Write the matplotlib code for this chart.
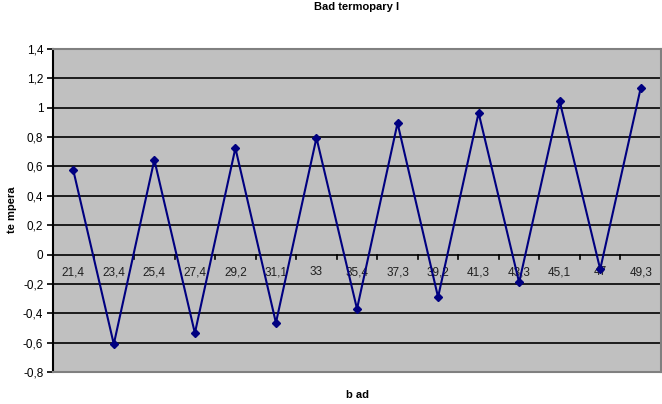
import numpy as np
import matplotlib.pyplot as plt
from matplotlib.ticker import FuncFormatter

plt.rcParams['font.family'] = ['Liberation Sans', 'DejaVu Sans']

# data
categories = ["21,4", "23,4", "25,4", "27,4", "29,2", "31,1", "33", "35,4",
              "37,3", "39,2", "41,3", "43,3", "45,1", "47", "49,3"]
values = [0.575, -0.61, 0.645, -0.535, 0.725, -0.465, 0.795, -0.37,
          0.895, -0.29, 0.965, -0.19, 1.045, -0.10, 1.135]

x = np.arange(len(categories))


def comma(v, pos):
    v = round(v, 1)
    if v == 0:
        return "0"
    return ('%g' % v).replace('.', ',')


fig = plt.figure(figsize=(6.62, 4.04), dpi=100)
ax = fig.add_axes([53 / 662, 32 / 404, 608 / 662, 323 / 404])
ax.set_facecolor('#c0c0c0')

ax.set_ylim(-0.8, 1.4)
ax.set_xlim(-0.5, len(categories) - 0.5)
ax.set_yticks(np.arange(-0.8, 1.41, 0.2))
ax.yaxis.set_major_formatter(FuncFormatter(comma))
ax.yaxis.grid(True, color='black', linewidth=1.2)
ax.set_axisbelow(True)

ax.plot(x, values, color='#000080', linewidth=1.5, marker='D', markersize=4.5, zorder=3)

# category labels sit just below the zero line
ax.set_xticks([])
for xi, lab in zip(x, categories):
    ax.text(xi, -0.12, lab, ha='center', va='center', fontsize=8.5, color='#202020', zorder=2)
# zero line tick marks at category boundaries
for b in np.arange(0.5, len(categories) - 0.5, 1):
    ax.plot([b, b], [0, -0.03], color='black', linewidth=1.2, zorder=2)

for s in ['top', 'right', 'bottom']:
    ax.spines[s].set_color('#808080')
    ax.spines[s].set_linewidth(1.5)
ax.spines['left'].set_color('black')
ax.spines['left'].set_linewidth(1.5)
ax.tick_params(axis='y', length=4, width=1.2, labelsize=8.5, pad=3)

fig.text(357 / 662, 1 - 7 / 404, "Bad termopary l", ha='center', va='center',
         fontsize=8, fontweight='bold')
fig.text(12 / 662, 1 - 210 / 404, "te mpera", ha='center', va='center',
         rotation=90, fontsize=8, fontweight='bold')
fig.text(357 / 662, 1 - 395 / 404, "b ad", ha='center', va='center',
         fontsize=8, fontweight='bold')

fig.savefig('out.png', dpi=100)
